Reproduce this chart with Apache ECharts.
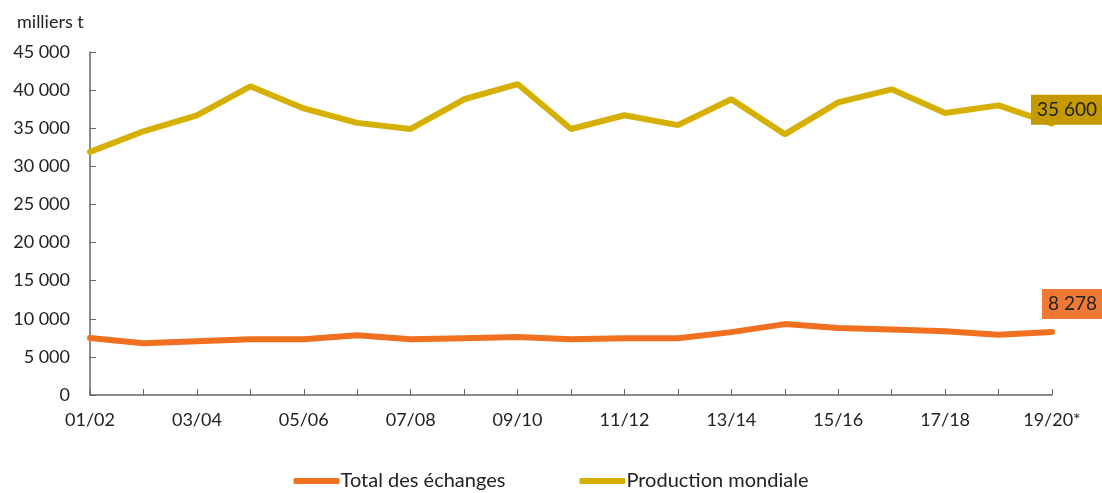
<!DOCTYPE html>
<html><head><meta charset="utf-8">
<script src="https://cdn.jsdelivr.net/npm/echarts@6/dist/echarts.min.js"></script>
<style>html,body{margin:0;padding:0;background:#fff}#c{width:1102px;height:493px}</style>
</head><body><div id="c"></div>
<script>
const categories = ['01/02','02/03','03/04','04/05','05/06','06/07','07/08','08/09','09/10','10/11','11/12','12/13','13/14','14/15','15/16','16/17','17/18','18/19','19/20*'];
const production = [31900,34600,36700,40500,37600,35700,34900,38800,40800,34900,36700,35400,38800,34200,38400,40100,37000,38000,35600];
const echanges = [7480,6800,7050,7300,7300,7850,7300,7450,7600,7300,7450,7450,8250,9300,8800,8600,8350,7900,8278];
const yTicks = {min:0, max:45000, interval:5000};

const fmt = v => String(v).replace(/\B(?=(\d{3})+(?!\d))/g, ' ');
const FONT = 'Lato';
const TXT = '#222';

function endLabel(bg, off) {
  return {show: true, formatter: p => fmt(p.value), offset: off, distance: 5,
    backgroundColor: bg, color: '#222', fontFamily: FONT, fontSize: 19,
    padding: [6, 6, 5, 6]};
}

const chart = echarts.init(document.getElementById('c'));
chart.setOption({
  animation: false,
  textStyle: {fontFamily: FONT},
  title: {text: 'milliers t', left: 12, top: 8, textStyle: {fontFamily: FONT, fontSize: 18, fontWeight: 'normal', color: TXT}},
  grid: {left: 90, right: 50, top: 52, bottom: 98},
  legend: {
    bottom: -3, left: 'center', itemWidth: 46, itemHeight: 6, itemGap: 74,
    textStyle: {fontFamily: FONT, fontSize: 20, color: TXT, padding: [0,0,0,-4]},
    data: [{name: 'Total des échanges', icon: 'roundRect'}, {name: 'Production mondiale', icon: 'roundRect'}]
  },
  xAxis: {
    type: 'category', data: categories, boundaryGap: false,
    axisLine: {lineStyle: {color: '#666', width: 1.5}},
    axisTick: {inside: true, length: 6, interval: 0, lineStyle: {color: '#666'}},
    axisLabel: {interval: 1, color: TXT, fontSize: 18, fontFamily: FONT, margin: 16}
  },
  yAxis: {
    type: 'value', min: yTicks.min, max: yTicks.max, interval: yTicks.interval,
    splitLine: {show: false},
    axisLine: {show: true, lineStyle: {color: '#666', width: 1.5}},
    axisTick: {show: true, inside: true, length: 6, lineStyle: {color: '#666'}},
    axisLabel: {color: TXT, fontSize: 18, fontFamily: FONT, margin: 20, formatter: v => fmt(v)}
  },
  series: [
    {name: 'Total des échanges', type: 'line', data: echanges,
     showSymbol: false, symbol: 'none', color: '#F07020',
     lineStyle: {width: 6, color: '#F07020', cap: 'round'},
     endLabel: endLabel('#F07A35', [-15, -28])},
    {name: 'Production mondiale', type: 'line', data: production,
     showSymbol: false, symbol: 'none', color: '#D6B000',
     lineStyle: {width: 6, color: '#D6B000', cap: 'round'},
     endLabel: endLabel('#C49A00', [-26, -14])}
  ]
});
</script></body></html>
